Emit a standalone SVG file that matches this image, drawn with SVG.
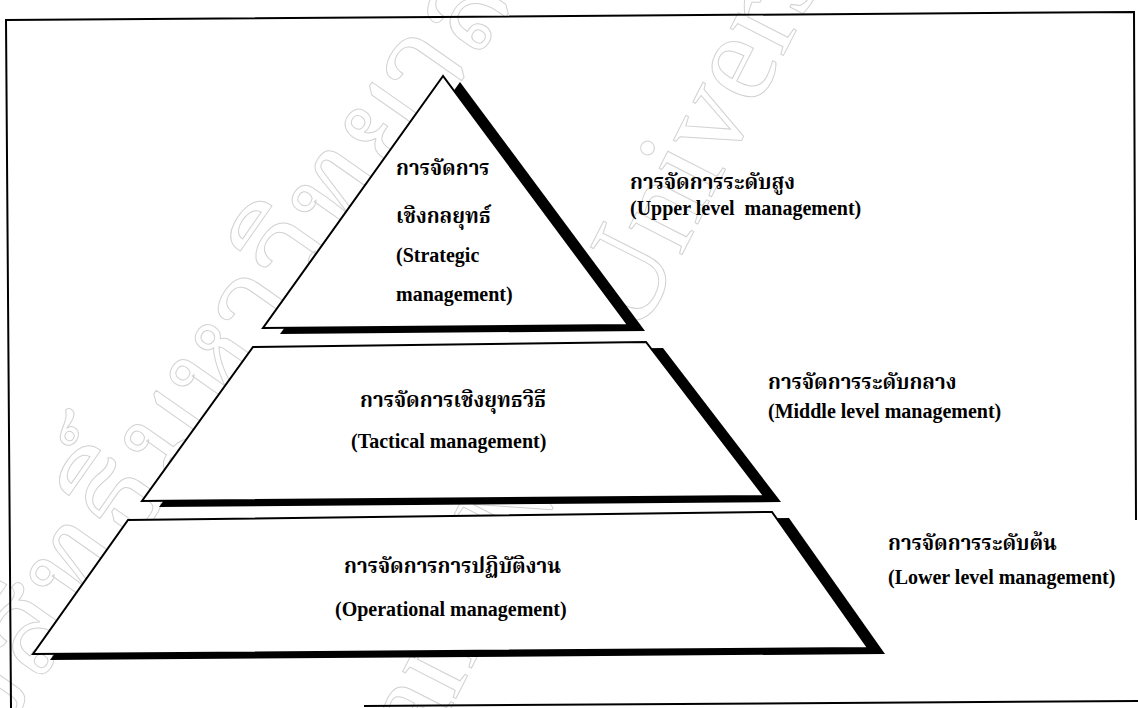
<svg xmlns="http://www.w3.org/2000/svg" width="1138" height="708" viewBox="0 0 1138 708">
  <style>
    .frame { fill: none; stroke: #000; stroke-width: 2; stroke-linecap: square; }
    .shadow { fill: #000; stroke: none; }
    .tier { fill: #fff; stroke: #000; stroke-width: 2; stroke-linejoin: miter; }
    .lbl { font-family: "Liberation Serif", "Noto Serif Thai", "Noto Sans Thai", "Garuda", "Loma", "Norasi", serif; font-weight: bold; font-size: 20px; fill: #000; }
    .th { font-size: 20.5px; }
    .wm { font-family: "Liberation Serif", "Noto Serif Thai", "Noto Sans Thai", "Garuda", serif; font-size: 130px; fill: none; stroke: #d2d2d2; stroke-width: 1; }
  </style>

  <rect x="0" y="0" width="1138" height="708" fill="#fff"/>

  <!-- faint outlined background stamp, cropped by the page edges -->
  <g id="watermark">
    <text class="wm" transform="translate(-50 810) rotate(-55)">ลิขสิทธิ์มหาวิทยาลัยเชียงใหม่</text>
    <text class="wm" transform="translate(343 920) rotate(-63)">Chiang Mai University</text>
  </g>

  <!-- page border -->
  <g id="border" class="frame">
    <polyline points="11,708 6,20 1134,12 1136,519"/>
    <line x1="365" y1="706" x2="1138" y2="701"/>
  </g>

  <!-- pyramid tiers, each with an offset drop shadow -->
  <g id="tier-upper">
    <polygon class="shadow" points="460,82 280,334 645,331"/>
    <polygon class="tier" points="443,76 263,328 628,325"/>
    <text class="lbl th" x="396" y="175">การจัดการ</text>
    <text class="lbl th" x="396" y="223">เชิงกลยุทธ์</text>
    <text class="lbl" x="396" y="262">(Strategic</text>
    <text class="lbl" x="396" y="301">management)</text>
  </g>

  <g id="tier-middle">
    <polygon class="shadow" points="270,353 663,348 781,502 159,507"/>
    <polygon class="tier" points="253,347 646,342 764,496 142,501"/>
    <text class="lbl th" x="360" y="407">การจัดการเชิงยุทธวิธี</text>
    <text class="lbl" x="351" y="448">(Tactical management)</text>
  </g>

  <g id="tier-lower">
    <polygon class="shadow" points="145,526 789,518 885,654 50,660"/>
    <polygon class="tier" points="128,520 772,512 868,648 33,654"/>
    <text class="lbl th" x="344" y="573">การจัดการการปฏิบัติงาน</text>
    <text class="lbl" x="335" y="616">(Operational management)</text>
  </g>

  <!-- level captions on the right -->
  <g id="caption-upper">
    <text class="lbl th" x="630" y="189">การจัดการระดับสูง</text>
    <text class="lbl" x="630" y="215" xml:space="preserve">(Upper level  management)</text>
  </g>
  <g id="caption-middle">
    <text class="lbl th" x="768" y="389">การจัดการระดับกลาง</text>
    <text class="lbl" x="768" y="418">(Middle level management)</text>
  </g>
  <g id="caption-lower">
    <text class="lbl th" x="888" y="550">การจัดการระดับต้น</text>
    <text class="lbl" x="888" y="584">(Lower level management)</text>
  </g>
</svg>
